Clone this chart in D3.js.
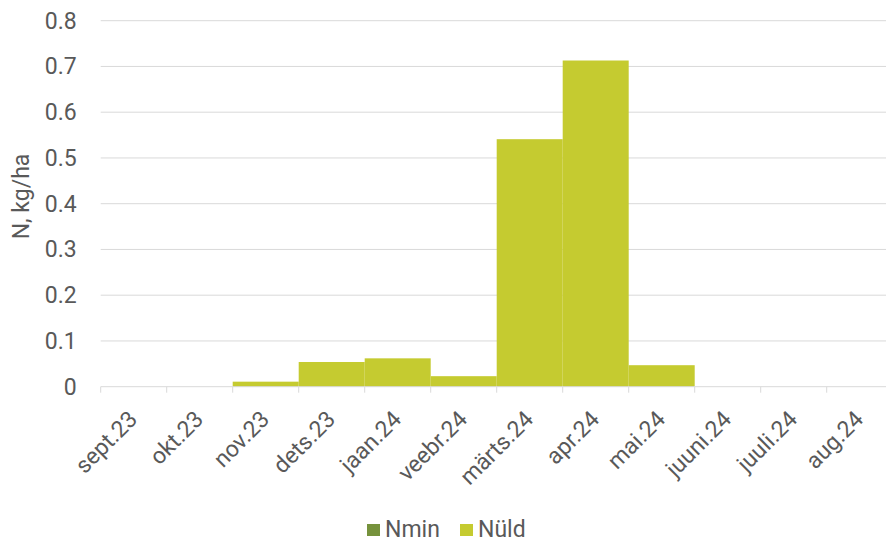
<!DOCTYPE html>
<html lang="et">
<head>
<meta charset="UTF-8">
<title>N, kg/ha</title>
<script src="https://d3js.org/d3.v7.min.js"></script>
<style>
  body { margin: 0; background: #fff; }
  svg { display: block; }
  svg text { font-family: Roboto, "Liberation Sans", sans-serif; }
  .grid line { stroke: #d9d9d9; stroke-width: 1px; }
</style>
</head>
<body>
<svg width="886" height="542"></svg>
<script>
// kuud
const months = ["sept.23", "okt.23", "nov.23", "dets.23", "jaan.24", "veebr.24",
                "märts.24", "apr.24", "mai.24", "juuni.24", "juuli.24", "aug.24"];
const nmin = [0, 0, 0, 0, 0, 0, 0, 0, 0, 0, 0, 0];
const nuld = [0, 0, 0.011, 0.054, 0.062, 0.023, 0.541, 0.713, 0.047, 0, 0, 0];
const yTicks = [0, 0.1, 0.2, 0.3, 0.4, 0.5, 0.6, 0.7, 0.8];
const seriesNames = ["Nmin", "Nüld"];
const colors = ["#76923c", "#c5cb30"];

const svg = d3.select("svg");
const mLeft = 100.7, mRight = 892.7, mTop = 20.7, mBottom = 386.7;
const fs = 23;
const textColor = "#595959";

const x = d3.scaleBand().domain(months).range([mLeft, mRight]).padding(0);
const y = d3.scaleLinear().domain([0, 0.8]).range([mBottom, mTop]);

const rows = months.map((m, i) => ({ month: m, Nmin: nmin[i], "Nüld": nuld[i] }));
const stacked = d3.stack().keys(seriesNames)(rows);

// ruudustik
svg.append("g").attr("class", "grid")
  .selectAll("line").data(yTicks.slice(1)).enter().append("line")
  .attr("x1", mLeft).attr("x2", mRight)
  .attr("y1", d => y(d)).attr("y2", d => y(d));

// tulbad
svg.append("g").selectAll("g").data(stacked).enter().append("g")
  .attr("fill", (d, i) => colors[i])
  .selectAll("rect").data(d => d).enter().append("rect")
  .attr("x", d => x(d.data.month))
  .attr("width", x.bandwidth())
  .attr("y", d => y(d[1]))
  .attr("height", d => y(d[0]) - y(d[1]));

// y-telg
const yAxis = svg.append("g").attr("transform", `translate(${mLeft},0)`)
  .call(d3.axisLeft(y).tickValues(yTicks).tickFormat(d => d === 0 ? "0" : d3.format(".1f")(d)).tickSize(0).tickPadding(24));
yAxis.select(".domain").remove();
yAxis.selectAll("text").attr("fill", textColor).attr("font-size", fs);

// x-telg
const xAxis = svg.append("g").attr("transform", `translate(0,${mBottom})`);
xAxis.append("line").attr("x1", mLeft).attr("x2", mRight).attr("stroke", "#d9d9d9");
xAxis.selectAll(".xt").data(d3.range(months.length + 1)).enter().append("line")
  .attr("x1", i => mLeft + i * x.step()).attr("x2", i => mLeft + i * x.step())
  .attr("y1", 0).attr("y2", 6).attr("stroke", "#d9d9d9");
xAxis.selectAll("text").data(months).enter().append("text")
  .attr("transform", d => `translate(${x(d) + x.bandwidth() / 2 + 5},${34}) rotate(-45)`)
  .attr("text-anchor", "end")
  .attr("fill", textColor)
  .attr("font-size", fs)
  .text(d => d);

// y-telje nimi
svg.append("text")
  .attr("transform", `translate(29,196.5) rotate(-90)`)
  .attr("text-anchor", "middle")
  .attr("fill", textColor)
  .attr("font-size", fs)
  .text("N, kg/ha");

// legend
const legend = svg.append("g").selectAll("g").data(seriesNames).enter().append("g")
  .attr("transform", (d, i) => `translate(${367 + i * 93},524)`);
legend.append("rect").attr("width", 13).attr("height", 12).attr("fill", (d, i) => colors[i]);
legend.append("text").attr("x", 18).attr("y", 13)
  .attr("fill", textColor).attr("font-size", fs).text(d => d);
</script>
</body>
</html>
